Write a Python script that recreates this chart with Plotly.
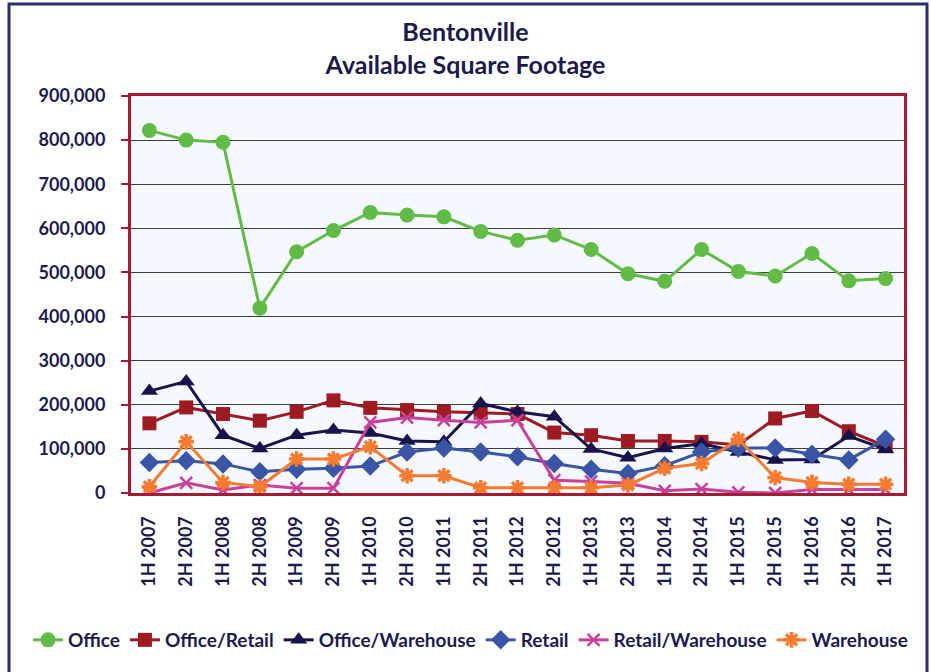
import plotly.graph_objects as go

# Half-year periods on the category axis
periods = [
    "1H 2007", "2H 2007", "1H 2008", "2H 2008", "1H 2009", "2H 2009",
    "1H 2010", "2H 2010", "1H 2011", "2H 2011", "1H 2012", "2H 2012",
    "1H 2013", "2H 2013", "1H 2014", "2H 2014", "1H 2015", "2H 2015",
    "1H 2016", "2H 2016", "1H 2017",
]

office = [822000, 800000, 795000, 419000, 547000, 595000, 636000, 630000, 626000,
          593000, 573000, 585000, 552000, 497000, 480000, 552000, 502000, 492000,
          543000, 481000, 486000]
office_retail = [158000, 194000, 179000, 164000, 184000, 210000, 193000, 188000,
                 184000, 182000, 179000, 137000, 131000, 118000, 118000, 116000,
                 109000, 169000, 186000, 140000, 106000]
office_warehouse = [231000, 253000, 131000, 101000, 131000, 143000, 136000, 118000,
                    116000, 203000, 184000, 173000, 100000, 80000, 101000, 112000,
                    93000, 75000, 76000, 129000, 99000]
retail = [69000, 73000, 66000, 48000, 54000, 56000, 61000, 93000, 102000, 93000,
          82000, 67000, 54000, 44000, 62000, 93000, 102000, 102000, 88000, 75000,
          122000]
retail_warehouse = [0, 23000, 7000, 18000, 11000, 11000, 160000, 171000, 165000,
                    160000, 165000, 29000, 26000, 22000, 5000, 9000, 1500, 0, 8000,
                    8000, 8000]
warehouse = [14000, 116000, 24000, 14000, 77000, 77000, 105000, 39000, 39000,
             12000, 12000, 12000, 12000, 18000, 56000, 67000, 122000, 35000, 24000,
             20000, 20000]

y_ticks = [0, 100000, 200000, 300000, 400000, 500000, 600000, 700000, 800000, 900000]

FONT = "Lato"
NAVY = "#1B1A4F"
FRAME_RED = "#A21C34"

series = [
    ("Office", office, "#62BB46", "circle", 15, 0),
    ("Office/Retail", office_retail, "#9E1B22", "square", 14, 0),
    ("Office/Warehouse", office_warehouse, "#16134D", "triangle-up", 15, 0),
    ("Retail", retail, "#3A55A6", "diamond", 15, 0),
    ("Retail/Warehouse", retail_warehouse, "#C8409A", "x-thin-open", 12, 2.5),
    ("Warehouse", warehouse, "#F47B2F", "asterisk-open", 13, 3.5),
]

fig = go.Figure()
for name, vals, color, symbol, size, lw in series:
    marker = dict(symbol=symbol, size=size, color=color)
    if lw:
        marker["line"] = dict(color=color, width=lw)
    else:
        marker["line"] = dict(width=0)
    fig.add_trace(go.Scatter(
        x=periods, y=vals, name=name, mode="lines+markers",
        line=dict(color=color, width=3), marker=marker,
    ))

L, R, T, B = 131, 27, 96, 179
W, H = 931 - L - R, 672 - T - B


def px_x(p):
    return (p - L) / W


def px_y(p):
    return (672 - B - p) / H


fig.update_layout(
    width=931, height=672,
    margin=dict(l=L, r=R, t=T, b=B),
    paper_bgcolor="white",
    plot_bgcolor="#F5F9FF",
    font=dict(family=FONT, color=NAVY),
    title=dict(
        text="<b>Bentonville</b><br><b>Available Square Footage</b>",
        x=0.5, xref="container", xanchor="center",
        y=1 - 41 / 672, yanchor="middle",
        font=dict(family=FONT, size=25, color=NAVY),
    ),
    showlegend=True,
    legend=dict(
        orientation="h", x=px_x(28), xref="paper", xanchor="left",
        y=px_y(640), yref="paper", yanchor="middle",
        font=dict(family=FONT, size=19, color=NAVY, weight="bold"),
        itemwidth=30, tracegroupgap=0, bgcolor="rgba(0,0,0,0)",
    ),
    xaxis=dict(
        type="category", range=[-0.5, len(periods) - 0.5],
        tickangle=-90, showgrid=False, ticks="",
        showline=True, linecolor=FRAME_RED, linewidth=3, mirror=True,
        tickfont=dict(family=FONT, size=18, color=NAVY, weight="bold"),
        ticklabelstandoff=13,
    ),
    yaxis=dict(
        range=[0, 900000], tickvals=y_ticks, tickformat=",d",
        showgrid=True, gridcolor="#3C3C3C", gridwidth=1,
        showline=True, linecolor=FRAME_RED, linewidth=3, mirror=True,
        ticks="outside", ticklen=7, tickwidth=2, tickcolor=FRAME_RED,
        tickfont=dict(family=FONT, size=18, color=NAVY, weight="bold"),
        ticklabelstandoff=12, zeroline=False,
    ),
    shapes=[dict(
        type="rect", xref="paper", yref="paper",
        x0=px_x(9), x1=px_x(927), y0=px_y(690), y1=px_y(4),
        line=dict(color="#25306B", width=3), fillcolor="rgba(0,0,0,0)",
        layer="below",
    )],
)

fig.write_html("out.html")
